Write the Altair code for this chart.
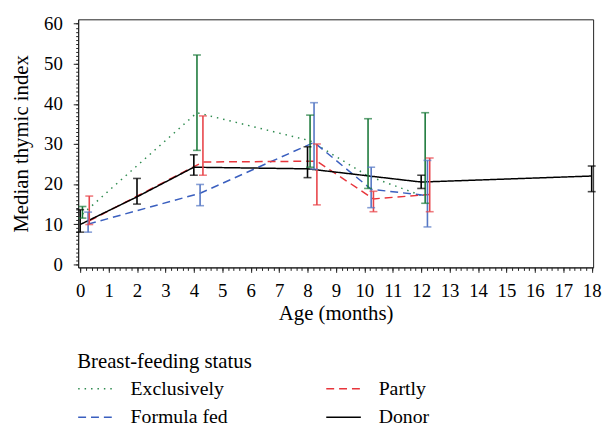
import altair as alt
import pandas as pd

# ---- data ----
series_names = ["Exclusively", "Partly", "Formula fed", "Donor"]
line_colors = ["#2e8b4f", "#e8353b", "#3a5fbf", "#000000"]
bar_colors = ["#1d7a3c", "#e8454a", "#5577c4", "#000000"]
dash_styles = [[1.5, 5], [8, 5], [8, 5], [1, 0]]

excl_x = [0.08, 4.11, 8.09, 10.13, 12.14]
excl_med = [12.5, 37.8, 30.8, 22.0, 16.8]
excl_lo = [11.5, 28.4, 24.2, 18.9, 15.2]
excl_hi = [14.4, 52.2, 37.2, 36.3, 37.8]

form_x = [0.28, 4.22, 8.23, 10.24, 12.22]
form_med = [10.0, 17.7, 30.4, 18.7, 17.1]
form_lo = [8.0, 14.6, 23.7, 14.1, 9.3]
form_hi = [13.0, 19.9, 40.3, 24.2, 25.9]

part_x = [0.32, 4.32, 8.33, 10.32, 12.30]
part_med = [10.8, 25.5, 25.7, 16.3, 17.4]
part_lo = [9.9, 22.2, 14.8, 13.1, 13.1]
part_hi = [17.0, 37.0, 30.0, 18.2, 26.5]

donor_x = [0, 2, 4, 8, 12, 18]
donor_med = [9.9, 16.8, 24.2, 23.8, 20.5, 22.0]
donor_lo = [8.0, 15.0, 22.2, 21.6, 18.9, 18.1]
donor_hi = [13.6, 21.4, 27.3, 29.3, 22.2, 24.5]

x_major_ticks = list(range(0, 19))
x_minor_ticks = [round(i * 0.2, 1) for i in range(0, 91)]
y_major_ticks = [0, 10, 20, 30, 40, 50, 60]
y_minor_ticks = list(range(0, 61))

rows = []
for name, xs, meds, los, his in [
    ("Exclusively", excl_x, excl_med, excl_lo, excl_hi),
    ("Formula fed", form_x, form_med, form_lo, form_hi),
    ("Partly", part_x, part_med, part_lo, part_hi),
    ("Donor", donor_x, donor_med, donor_lo, donor_hi),
]:
    bc = bar_colors[series_names.index(name)]
    for x, m, lo, hi in zip(xs, meds, los, his):
        rows.append({"series": name, "age": x, "med": m, "lo": lo, "hi": hi, "barcol": bc})
df = pd.DataFrame(rows)

FONT = "Liberation Serif, Times New Roman, DejaVu Serif, serif"
x_scale = alt.Scale(domain=[-0.07, 18.05], nice=False, zero=False)
y_scale = alt.Scale(domain=[-0.8, 61.1], nice=False, zero=False)

x_main = alt.X(
    "age:Q",
    scale=x_scale,
    axis=alt.Axis(
        title="Age (months)",
        orient="bottom",
        values=x_major_ticks,
        tickSize=5,
        labelOverlap=False,
        labelFlush=False,
        grid=False,
        labelPadding=9,
        titlePadding=3,
    ),
)
y_main = alt.Y(
    "med:Q",
    scale=y_scale,
    axis=alt.Axis(
        title="Median thymic index",
        orient="left",
        values=y_major_ticks,
        tickSize=5,
        labelOverlap=False,
        labelFlush=False,
        grid=False,
        labelPadding=11,
        titlePadding=12,
    ),
)
x_minor = alt.X(
    "age:Q",
    scale=x_scale,
    axis=alt.Axis(
        title=None, orient="bottom", values=x_minor_ticks, tickSize=3,
        labels=False, domain=False, grid=False,
    ),
)
y_minor = alt.Y(
    "lo:Q",
    scale=y_scale,
    axis=alt.Axis(
        title=None, orient="left", values=y_minor_ticks, tickSize=2.5,
        labels=False, domain=False, grid=False,
    ),
)

legend = alt.Legend(
    title="Breast-feeding status",
    orient="none",
    legendX=-1,
    legendY=336,
    columns=2,
    direction="horizontal",
    symbolType="stroke",
    symbolSize=1225,
    symbolStrokeWidth=1.5,
    labelFont=FONT,
    labelFontSize=20,
    labelColor="black",
    labelOffset=17,
    titleFont=FONT,
    titleFontSize=21,
    titleFontWeight="normal",
    titleColor="black",
    titlePadding=-2,
    columnPadding=96,
    rowPadding=0,
    padding=0,
)

base = alt.Chart(df)

lines = base.mark_line(strokeWidth=1.5).encode(
    x=x_main,
    y=y_main,
    color=alt.Color("series:N", scale=alt.Scale(domain=series_names, range=line_colors), legend=legend),
    strokeDash=alt.StrokeDash("series:N", scale=alt.Scale(domain=series_names, range=dash_styles), legend=legend),
)

bars = base.mark_rule(strokeWidth=1.6).encode(
    x=x_minor,
    y=y_minor,
    y2="hi:Q",
    stroke=alt.Stroke("barcol:N", scale=None),
)

caps_lo = base.mark_tick(orient="horizontal", size=8, thickness=1.6).encode(
    x=alt.X("age:Q", axis=None),
    y=alt.Y("lo:Q", axis=None),
    fill=alt.Fill("barcol:N", scale=None),
)
caps_hi = base.mark_tick(orient="horizontal", size=8, thickness=1.6).encode(
    x=alt.X("age:Q", axis=None),
    y=alt.Y("hi:Q", axis=None),
    fill=alt.Fill("barcol:N", scale=None),
)

chart = (
    alt.layer(lines, bars, caps_lo, caps_hi)
    .resolve_axis(x="independent", y="independent")
    .properties(
        width=521,
        height=251,
        autosize=alt.AutoSizeParams(type="none"),
        padding={"left": 71, "top": 9, "right": 10, "bottom": 158},
    )
    .configure_view(stroke="#222222", strokeWidth=1)
    .configure_axis(
        labelFont=FONT,
        labelFontSize=19,
        labelColor="black",
        titleFont=FONT,
        titleFontSize=21,
        titleFontWeight="normal",
        titleColor="black",
        domainColor="#222222",
        tickColor="#222222",
    )
)

chart.save("out.html", embed_options={"renderer": "svg", "actions": False})
